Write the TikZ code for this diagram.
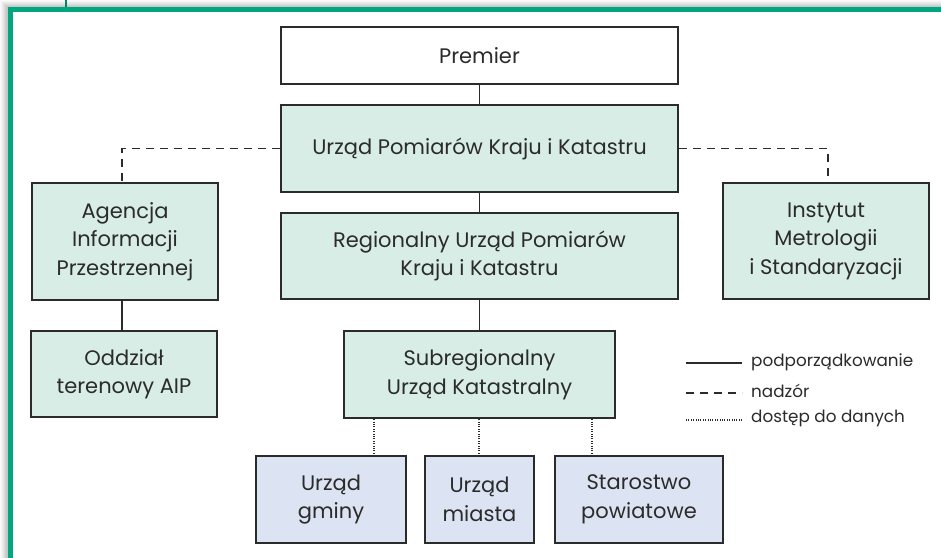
\documentclass[tikz,border=0pt]{standalone}
\usepackage{fontspec}
\setmainfont{Poppins}
\usetikzlibrary{positioning,calc}
\definecolor{frameg}{HTML}{00A67E}
\definecolor{boxg}{HTML}{D8EDE5}
\definecolor{boxb}{HTML}{DCE3F2}
\definecolor{edge}{HTML}{2B2B2B}
\tikzset{
  box/.style={draw=edge, line width=2.2pt, align=center, inner sep=0pt,
    font=\fontsize{21}{28.5}\selectfont, text=edge},
  gbox/.style={box, fill=boxg},
  bbox/.style={box, fill=boxb},
  wbox/.style={box, fill=white},
  sub/.style={draw=edge, line width=1.6pt},
  nadz/.style={draw=edge, line width=1.6pt, dash pattern=on 8pt off 6pt},
  dost/.style={draw=edge, line width=1.6pt, dash pattern=on 1pt off 1.4pt},
  leg/.style={anchor=west, inner sep=0pt, font=\fontsize{16.8}{20}\selectfont, text=edge}
}
\begin{document}
\begin{tikzpicture}[x=1pt,y=-1pt]
\useasboundingbox (0,0) rectangle (941,557);
% shadow
\foreach \i/\o in {0/0.02,1/0.025,2/0.03,3/0.035,4/0.04,5/0.045,6/0.05}{
  \fill[black, opacity=\o] (\i,\i) rectangle (950,570);
}
% frame
\fill[white] (8,7) rectangle (950,570);
\draw[frameg, line width=5pt] (10.5,9.5) rectangle (960,590);
\draw[frameg!80!black, line width=2pt] (66,0) -- (66,7);
% nodes
\node[wbox, minimum width=397pt, minimum height=57pt] (premier) at (479.5,55.5) {Premier};
\node[gbox, minimum width=397pt, minimum height=87pt] (upkk) at (479.5,148.5) {Urząd Pomiarów Kraju i Katastru};
\node[gbox, minimum width=397pt, minimum height=86pt] (rupkk) at (479.5,256) {Regionalny Urząd Pomiarów\\Kraju i Katastru};
\node[gbox, minimum width=271pt, minimum height=87pt] (subr) at (479.5,374.5) {Subregionalny\\Urząd Katastralny};
\node[gbox, minimum width=186pt, minimum height=117pt] (aip) at (125,241.5) {Agencja\\Informacji\\Przestrzennej};
\node[gbox, minimum width=186pt, minimum height=86pt] (oddz) at (124,374) {Oddział\\terenowy AIP};
\node[gbox, minimum width=206pt, minimum height=116pt] (inst) at (826,241) {Instytut\\Metrologii\\i Standaryzacji};
\node[bbox, minimum width=150pt, minimum height=87pt] (gm) at (331,499.5) {Urząd\\gminy};
\node[bbox, minimum width=109pt, minimum height=87pt] (mi) at (479.5,499.5) {Urząd\\miasta};
\node[bbox, minimum width=168pt, minimum height=87pt] (st) at (639,499.5) {Starostwo\\powiatowe};
% connectors
\draw[sub] (premier.south) -- (upkk.north);
\draw[sub] (upkk.south) -- (rupkk.north);
\draw[sub] (rupkk.south) -- (subr.north);
\coordinate (ax) at (122,0);
\draw[sub] (aip.south -| ax) -- (oddz.north -| ax);
\draw[nadz] (upkk.west) -| (aip.north -| ax);
\coordinate (ix) at (828,0);
\draw[nadz] (upkk.east) -| (inst.north -| ix);
\coordinate (d1) at (374,0);
\coordinate (d2) at (479,0);
\coordinate (d3) at (592,0);
\draw[dost] (subr.south -| d1) -- (gm.north -| d1);
\draw[dost] (subr.south -| d2) -- (mi.north -| d2);
\draw[dost] (subr.south -| d3) -- (st.north -| d3);
% legend
\coordinate (la1) at (686,363); \coordinate (lb1) at (742,363);
\coordinate (la2) at (686,393); \coordinate (lb2) at (742,393);
\coordinate (la3) at (686,420); \coordinate (lb3) at (742,420);
\draw[sub] (la1) -- (lb1);
\draw[nadz] (la2) -- (lb2);
\draw[dost] (la3) -- (lb3);
\node[leg] (t1) at (751,362) {podporządkowanie};
\node[leg] (t2) at (751,391) {nadzór};
\node[leg] (t3) at (751,418) {dostęp do danych};
\end{tikzpicture}
\end{document}
